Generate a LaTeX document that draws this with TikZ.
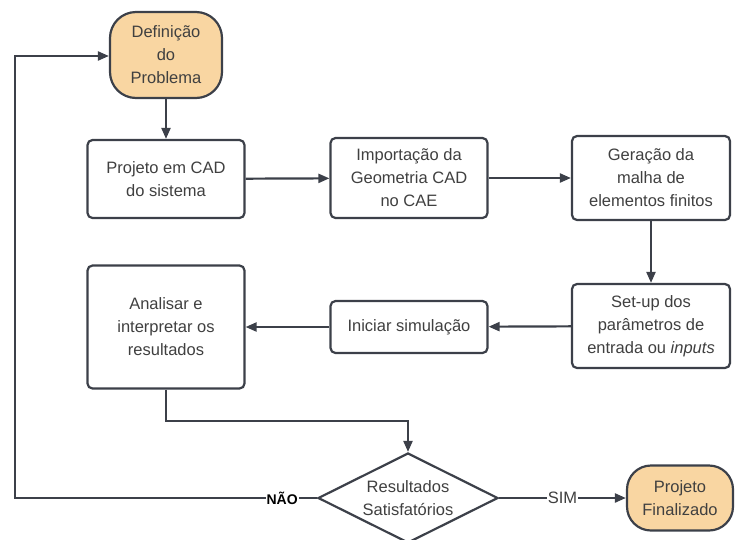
\documentclass[tikz,border=0pt]{standalone}
\usepackage{fontspec}
\setmainfont{Liberation Sans}
\usetikzlibrary{shapes.geometric,arrows.meta}
\definecolor{ln}{HTML}{3C4049}
\definecolor{term}{HTML}{F9D6A2}
\definecolor{txt}{HTML}{404040}
\begin{document}
\begin{tikzpicture}[x=1pt,y=-1pt,
  every node/.style={font=\fontsize{16.5}{23}\selectfont, text=txt, align=center},
  proc/.style={draw=ln, line width=2.2pt, rounded corners=5pt, fill=white, inner sep=0pt},
  termbox/.style={draw=ln, line width=2.2pt, rounded corners=26pt, fill=term, inner sep=0pt},
  conn/.style={draw=ln, line width=2.2pt, -{Triangle[length=11pt,width=9pt]}},
  plain/.style={draw=ln, line width=2.2pt}]
\useasboundingbox (0,0) rectangle (735,539);
\node[termbox, minimum width=112pt, minimum height=86pt] (def) at (166,55) {Definição\\do\\Problema};
\node[proc, minimum width=157pt, minimum height=78pt] (cad) at (166,179) {Projeto em CAD\\do sistema};
\node[proc, minimum width=157pt, minimum height=80pt] (imp) at (409,178) {Importação da\\Geometria CAD\\no CAE};
\node[proc, minimum width=158pt, minimum height=84pt] (ger) at (651,178) {Geração da\\malha de\\elementos finitos};
\node[proc, minimum width=158pt, minimum height=84pt] (set) at (651,326) {Set-up dos\\parâmetros de\\entrada ou \textit{inputs}};
\node[proc, minimum width=157pt, minimum height=52pt] (ini) at (409,327) {Iniciar simulação};
\node[proc, minimum width=157pt, minimum height=123pt] (ana) at (166,327) {Analisar e\\interpretar os\\resultados};
\node[draw=ln, line width=2.2pt, fill=white, shape=diamond, aspect=2, inner sep=0pt, minimum width=180pt, minimum height=90pt] (dec) at (408,498) {Resultados\\Satisfatórios};
\node[termbox, rounded corners=24pt, minimum width=106pt, minimum height=65pt] (fin) at (680,498) {Projeto\\Finalizado};
\coordinate (a1) at (166,421);
\coordinate (a2) at (408,421);
\coordinate (n1) at (15,498);
\coordinate (n2) at (15,56);
\draw[conn] (def) -- (cad);
\draw[conn] (cad) -- (imp);
\draw[conn] (imp) -- (ger);
\draw[conn] (ger) -- (set);
\draw[conn] (set) -- (ini);
\draw[conn] (ini) -- (ana);
\draw[conn] (ana.south) -- (a1) -- (a2) -- (dec.north);
\draw[conn] (dec.west) -- node[fill=white, inner sep=1pt, font=\fontsize{14}{16}\selectfont\bfseries, text=black, pos=0.115] {NÃO} (n1) -- (n2) -- (n2 -| def.west);
\draw[conn] (dec.east) -- node[fill=white, inner sep=1pt, pos=0.5] {SIM} (fin.west);
\end{tikzpicture}
\end{document}
